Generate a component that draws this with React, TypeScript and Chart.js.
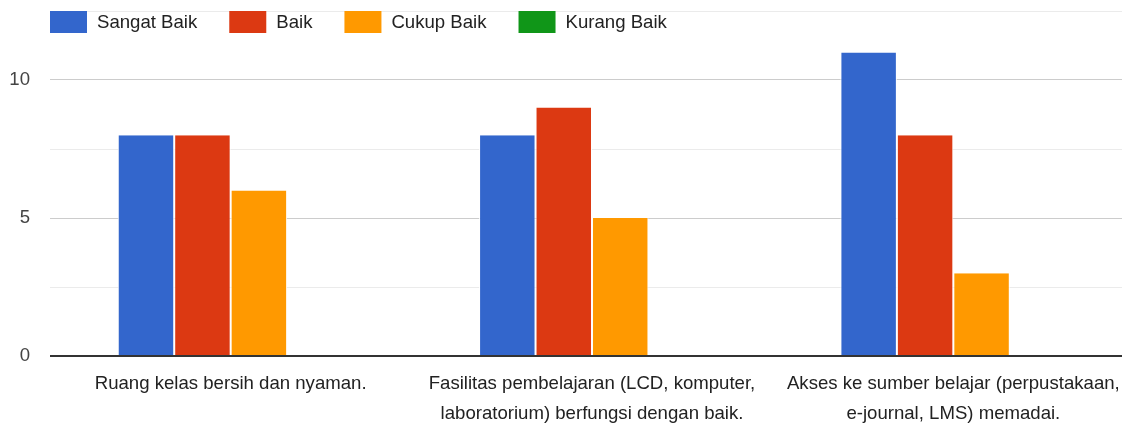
import React, { useEffect, useRef } from "react";
import { Chart, registerables } from "chart.js";

Chart.register(...registerables);

const categories: string[][] = [
  ["Ruang kelas bersih dan nyaman."],
  ["Fasilitas pembelajaran (LCD, komputer,", "laboratorium) berfungsi dengan baik."],
  ["Akses ke sumber belajar (perpustakaan,", "e-journal, LMS) memadai."],
];
const seriesNames = ["Sangat Baik", "Baik", "Cukup Baik", "Kurang Baik"];
const seriesColors = ["#3366cc", "#dc3912", "#ff9900", "#109618"];
const sangatBaik = [8, 8, 11];
const baik = [8, 9, 8];
const cukupBaik = [6, 5, 3];
const kurangBaik = [0, 0, 0];
const yMax = 12.5;
const yStep = 2.5;

const FONT = "'Liberation Sans', Arial, sans-serif";
const FONT_SIZE = 18.6;

const legendPlugin = {
  id: "topLegend",
  afterDraw(chart: any) {
    const ctx = chart.ctx;
    ctx.save();
    ctx.font = `${FONT_SIZE}px ${FONT}`;
    ctx.textBaseline = "middle";
    ctx.textAlign = "left";
    let x = 50;
    const y = 11;
    const bw = 37;
    const bh = 22;
    chart.data.datasets.forEach((ds: any, i: number) => {
      const color = seriesColors[i];
      ctx.fillStyle = color;
      ctx.fillRect(x, y, bw, bh);
      ctx.fillStyle = "#222222";
      const label = ds.label as string;
      ctx.fillText(label, x + bw + 10, y + bh / 2 + 1);
      x += bw + 10 + ctx.measureText(label).width + 32;
    });
    ctx.restore();
  },
};

export default function App() {
  const ref = useRef<HTMLCanvasElement | null>(null);
  useEffect(() => {
    document.body.style.margin = "0";
    document.body.style.overflow = "hidden";
    const canvas = ref.current!;
    const values = [sangatBaik, baik, cukupBaik, kurangBaik];
    const chart = new Chart(canvas, {
      type: "bar",
      data: {
        labels: categories,
        datasets: seriesNames.map((name, i) => ({
          label: name,
          data: values[i],
          backgroundColor: seriesColors[i],
          borderColor: "#ffffff",
          borderWidth: { left: 1, right: 1, top: 0, bottom: 0 },
          borderSkipped: false,
          categoryPercentage: 0.625,
          barPercentage: 1,
        })),
      },
      options: {
        animation: false,
        responsive: false,
        devicePixelRatio: 1,
        layout: { padding: { top: 11, left: 0, right: 0, bottom: 0 } },
        plugins: {
          legend: { display: false },
          tooltip: { enabled: false },
        },
        scales: {
          x: {
            grid: { display: false, drawTicks: false },
            border: { display: false },
            afterFit: (scale: any) => {
              scale.height = 67;
              scale.paddingLeft = 0;
              scale.paddingRight = 0;
            },
            ticks: {
              autoSkip: false,
              maxRotation: 0,
              minRotation: 0,
              padding: 13,
              color: "#222222",
              font: { family: FONT, size: FONT_SIZE, lineHeight: 1.6 },
            },
          },
          y: {
            min: 0,
            max: yMax,
            afterFit: (scale: any) => {
              scale.width = 50;
              scale.paddingTop = 0;
              scale.paddingBottom = 0;
            },
            grid: {
              drawTicks: false,
              color: (c: any) =>
                c.tick && c.tick.value === 0
                  ? "#333333"
                  : c.tick && c.tick.value % 5 === 0
                  ? "#cccccc"
                  : "#ebebeb",
              lineWidth: (c: any) => (c.tick && c.tick.value === 0 ? 2 : 1),
            },
            border: { display: false },
            ticks: {
              stepSize: yStep,
              padding: 20,
              color: "#444444",
              font: { family: FONT, size: FONT_SIZE },
              callback: (v: any) => (Number(v) % 5 === 0 ? String(v) : ""),
            },
          },
        },
      },
      plugins: [legendPlugin],
    });
    return () => chart.destroy();
  }, []);
  return (
    <div style={{ width: 1122, height: 423, overflow: "hidden", background: "#fff" }}>
      <canvas ref={ref} width={1134} height={423} style={{ display: "block" }} />
    </div>
  );
}
